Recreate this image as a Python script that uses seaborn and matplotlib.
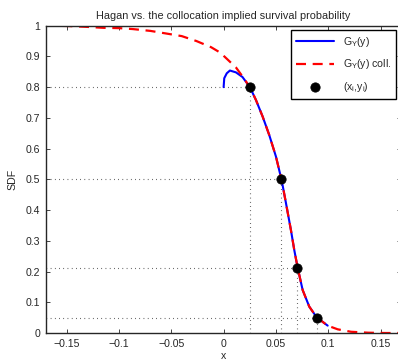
import matplotlib
matplotlib.use("Agg")
import matplotlib.pyplot as plt
import seaborn as sns
import pandas as pd

# Hagan implied survival function
hagan_x = [0.0, 0.0006, 0.003, 0.006, 0.0118, 0.018, 0.0251, 0.0309, 0.0373, 0.0436,
           0.050, 0.0538, 0.0554, 0.0596, 0.0643, 0.0675, 0.0707, 0.0755, 0.0818,
           0.0889, 0.0994]
hagan_y = [0.80, 0.829, 0.845, 0.854, 0.848, 0.833, 0.80, 0.758, 0.704, 0.644,
           0.574, 0.520, 0.498, 0.422, 0.335, 0.270, 0.213, 0.140, 0.086,
           0.051, 0.024]

# collocation survival function
coll_x = [-0.17, -0.15, -0.13, -0.115, -0.1, -0.087, -0.07, -0.054, -0.04, -0.026,
          -0.012, -0.0026, 0.0, 0.0118, 0.018, 0.0251, 0.0309, 0.0373, 0.0436,
          0.050, 0.0538, 0.0554, 0.0596, 0.0643, 0.0675, 0.0707, 0.0755, 0.0818,
          0.0889, 0.0994, 0.109, 0.1217, 0.138, 0.154, 0.17]
coll_y = [1.0, 0.999, 0.996, 0.993, 0.992, 0.989, 0.983, 0.974, 0.966, 0.950,
          0.930, 0.911, 0.902, 0.864, 0.835, 0.80, 0.758, 0.704, 0.644,
          0.574, 0.520, 0.498, 0.422, 0.335, 0.270, 0.213, 0.140, 0.086,
          0.051, 0.024, 0.012, 0.004, 0.001, 0.0, 0.0]

# collocation points
pts_x = [0.025, 0.055, 0.0705, 0.089]
pts_y = [0.80, 0.50, 0.21, 0.05]

xticks = [-0.15, -0.1, -0.05, 0, 0.05, 0.1, 0.15]
xticklabels = ["\u22120.15", "\u22120.1", "\u22120.05", "0", "0.05", "0.1", "0.15"]
yticks = [0, 0.1, 0.2, 0.3, 0.4, 0.5, 0.6, 0.7, 0.8, 0.9, 1]
yticklabels = ["0", "0.1", "0.2", "0.3", "0.4", "0.5", "0.6", "0.7", "0.8", "0.9", "1"]

sns.set_style("ticks")
plt.rcParams["font.family"] = ["Liberation Sans", "DejaVu Sans"]
plt.rcParams["mathtext.fontset"] = "custom"
plt.rcParams["mathtext.rm"] = "Liberation Sans"
plt.rcParams["mathtext.it"] = "Liberation Sans"

hagan = pd.DataFrame({"x": hagan_x, "y": hagan_y})
coll = pd.DataFrame({"x": coll_x, "y": coll_y})
pts = pd.DataFrame({"x": pts_x, "y": pts_y})

fig = plt.figure(figsize=(3.98, 3.62), dpi=100)
ax = fig.add_axes([0.1148, 0.0801, 0.8915, 0.849])

# dotted guide lines
for px, py in zip(pts_x, pts_y):
    ax.plot([-0.17, px], [py, py], color="#222222", linestyle=(0, (0.6, 3.2)), linewidth=0.8)
    ax.plot([px, px], [0, py], color="#222222", linestyle=(0, (0.6, 3.2)), linewidth=0.8)

sns.lineplot(data=hagan, x="x", y="y", ax=ax, color="#0000ff", linewidth=1.5,
             label="G$_Y$(y)")
sns.lineplot(data=coll, x="x", y="y", ax=ax, color="#ff0000", linewidth=1.6,
             linestyle=(0, (4.5, 3)), label="G$_Y$(y) coll.")
sns.scatterplot(data=pts, x="x", y="y", ax=ax, color="black", s=45, edgecolor="black",
                zorder=5, label="(x$_i$,y$_i$)")

ax.set_xlim(-0.17, 0.169)
ax.set_ylim(0, 1)
ax.set_xticks(xticks)
ax.set_xticklabels(xticklabels)
ax.set_yticks(yticks)
ax.set_yticklabels(yticklabels)
ax.tick_params(direction="in", top=True, right=True, length=3, width=0.6,
               labelsize=7.6, pad=4)
for s in ax.spines.values():
    s.set_linewidth(1.0)
    s.set_visible(True)

ax.set_title("Hagan vs. the collocation implied survival probability", fontsize=7.8, pad=5)
ax.set_xlabel("x", fontsize=7.6, labelpad=2)
ax.set_ylabel("SDF", fontsize=7.6, labelpad=6)

leg = ax.legend(loc="upper right", bbox_to_anchor=(0.988, 0.987), borderaxespad=0,
                fontsize=7.6, frameon=True, fancybox=False, handlelength=3.6,
                labelspacing=0.8, borderpad=0.5)
leg.get_frame().set_edgecolor("black")
leg.get_frame().set_linewidth(1.0)
leg.get_frame().set_alpha(1)

fig.savefig("out.png", dpi=100)
